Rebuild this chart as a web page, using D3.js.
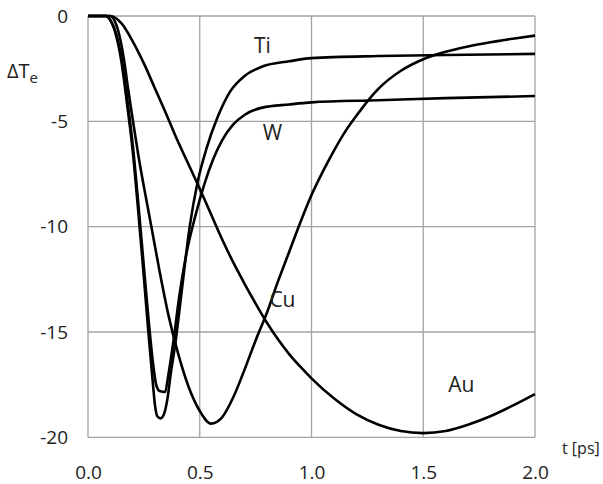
<!DOCTYPE html>
<html>
<head>
<meta charset="utf-8">
<script src="https://cdn.jsdelivr.net/npm/d3@7"></script>
<style>
  body { margin: 0; background: #fff; }
  svg { display: block; }
  text { font-family: "Open Sans", sans-serif; fill: #222; }
</style>
</head>
<body>
<svg id="chart" width="603" height="484"></svg>
<script>
// values: [t in ps, delta Te]
const tiData = [[0,0],[0.08,0],[0.1,-0.2],[0.125,-0.9],[0.15,-2.2],[0.175,-4.2],[0.2,-6.4],[0.225,-9.3],
  [0.25,-12.4],[0.27,-15.0],[0.29,-17.4],[0.3,-18.5],[0.31,-19.0],[0.325,-19.1],[0.34,-18.9],[0.355,-18.2],
  [0.37,-17.0],[0.39,-15.6],[0.42,-13.0],[0.455,-10.0],[0.49,-7.9],[0.53,-6.3],[0.58,-4.8],[0.635,-3.6],
  [0.7,-2.85],[0.78,-2.4],[0.9,-2.15],[1.0,-2.0],[1.3,-1.9],[1.6,-1.85],[2.0,-1.8]];
const wData = [[0,0],[0.08,0],[0.1,-0.2],[0.125,-0.8],[0.15,-2.0],[0.175,-3.9],[0.2,-6.1],[0.225,-8.9],
  [0.25,-11.9],[0.27,-14.3],[0.29,-16.4],[0.305,-17.5],[0.32,-17.8],[0.345,-17.85],[0.36,-17.0],[0.38,-15.6],
  [0.41,-13.2],[0.44,-11.3],[0.48,-9.5],[0.52,-8.0],[0.56,-6.8],[0.6,-5.9],[0.65,-5.15],[0.7,-4.7],
  [0.78,-4.35],[0.9,-4.2],[1.0,-4.1],[1.3,-4.0],[1.6,-3.9],[2.0,-3.8]];
const cuData = [[0,0],[0.1,0],[0.12,-0.25],[0.14,-0.9],[0.16,-2.0],[0.18,-3.5],[0.2,-4.9],[0.225,-6.6],
  [0.25,-8.1],[0.28,-9.8],[0.32,-12.1],[0.36,-14.2],[0.4,-15.9],[0.45,-17.6],[0.5,-18.75],[0.55,-19.35],
  [0.6,-19.05],[0.65,-18.1],[0.7,-16.8],[0.75,-15.4],[0.8,-14.1],[0.85,-12.6],[0.9,-11.2],[0.95,-9.8],
  [1.0,-8.5],[1.05,-7.4],[1.1,-6.4],[1.15,-5.5],[1.2,-4.75],[1.25,-4.05],[1.3,-3.45],[1.4,-2.6],
  [1.5,-2.05],[1.6,-1.7],[1.7,-1.45],[1.8,-1.25],[1.9,-1.08],[2.0,-0.93]];
const auData = [[0,0],[0.1,0],[0.15,-0.35],[0.2,-1.2],[0.25,-2.25],[0.3,-3.45],[0.35,-4.65],[0.4,-5.9],
  [0.45,-7.05],[0.5,-8.2],[0.55,-9.4],[0.6,-10.6],[0.65,-11.7],[0.7,-12.7],[0.75,-13.65],[0.8,-14.55],
  [0.85,-15.35],[0.9,-16.05],[0.95,-16.65],[1.0,-17.2],[1.1,-18.15],[1.2,-18.9],[1.3,-19.4],[1.4,-19.7],
  [1.5,-19.8],[1.6,-19.7],[1.7,-19.4],[1.8,-19.0],[1.9,-18.5],[2.0,-17.95]];

const seriesNames = ["Ti", "W", "Cu", "Au"];
const seriesData = [tiData, wData, cuData, auData];
// label anchors in data units
const labelPos = [[0.78, -1.77], [0.825, -5.87], [0.87, -13.8], [1.67, -17.85]];

const xTicks = [0, 0.5, 1.0, 1.5, 2.0];
const yTicks = [0, -5, -10, -15, -20];

const svg = d3.select("#chart");
const x = d3.scaleLinear().domain([0, 2]).range([88, 535]);
const y = d3.scaleLinear().domain([-20, 0]).range([437.3, 16]);

// grid
const grid = svg.append("g").attr("stroke", "#a3a3a3").attr("stroke-width", 1.3);
grid.selectAll(".gx").data(xTicks).enter().append("line")
  .attr("x1", d => x(d)).attr("x2", d => x(d))
  .attr("y1", y(0)).attr("y2", y(-20));
grid.selectAll(".gy").data(yTicks).enter().append("line")
  .attr("x1", x(0)).attr("x2", x(2))
  .attr("y1", d => y(d)).attr("y2", d => y(d));

// axes (labels only), plain hyphen for minus like the original
const yAxis = svg.append("g")
  .attr("transform", `translate(${x(0)},0)`)
  .call(d3.axisLeft(y).tickValues(yTicks).tickSize(0).tickPadding(20).tickFormat(d => String(d)));
const xAxis = svg.append("g")
  .attr("transform", `translate(0,${y(-20)})`)
  .call(d3.axisBottom(x).tickValues(xTicks).tickSize(0).tickPadding(28).tickFormat(d => d.toFixed(1)));
[yAxis, xAxis].forEach(a => {
  a.select(".domain").remove();
  a.selectAll("text").attr("font-size", 19).attr("fill", "#222")
    .style("font-family", "'Open Sans', sans-serif");
});

// curves
const line = d3.line()
  .x(d => x(d[0])).y(d => y(d[1]))
  .curve(d3.curveMonotoneX);

svg.append("g").selectAll("path")
  .data(seriesData).enter().append("path")
  .attr("d", line)
  .attr("fill", "none")
  .attr("stroke", "#000")
  .attr("stroke-width", 2.6)
  .attr("stroke-linejoin", "round");

// curve labels
svg.append("g").selectAll("text")
  .data(seriesNames).enter().append("text")
  .attr("x", (d, i) => x(labelPos[i][0]))
  .attr("y", (d, i) => y(labelPos[i][1]))
  .attr("font-size", 21)
  .attr("text-anchor", "middle")
  .text(d => d);

// axis titles
const yt = svg.append("text").attr("x", 7).attr("y", 78).attr("font-size", 20);
yt.append("tspan").text("ΔT");
yt.append("tspan").attr("font-size", 15).attr("dy", 5).text("e");

svg.append("text").attr("x", 562).attr("y", 454).attr("font-size", 16).text("t [ps]");
</script>
</body>
</html>
